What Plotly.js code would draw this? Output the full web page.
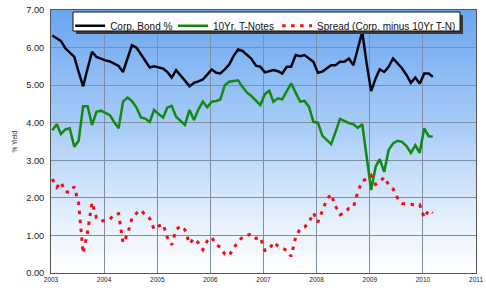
<!DOCTYPE html>
<html>
<head>
<meta charset="utf-8">
<script src="https://cdn.plot.ly/plotly-3.0.1.min.js"></script>
<style>html,body{margin:0;padding:0;background:#fff;}#chart{width:486px;height:288px;}</style>
</head>
<body>
<div id="chart"></div>
<script>
// Monthly series, first observation January 2003
const startYear = 2003;
const corpBond = [
  6.32, 6.24, 6.18, 5.98, 5.86, 5.75, 5.35, 4.97, 5.45, 5.89, 5.75, 5.70,
  5.66, 5.63, 5.58, 5.51, 5.35, 5.70, 6.06, 6.00, 5.82, 5.65, 5.47, 5.50,
  5.48, 5.44, 5.35, 5.20, 5.40, 5.27, 5.12, 4.97, 5.06, 5.10, 5.15, 5.28,
  5.42, 5.33, 5.31, 5.42, 5.55, 5.78, 5.95, 5.91, 5.80, 5.70, 5.52, 5.49,
  5.34, 5.37, 5.40, 5.37, 5.31, 5.49, 5.49, 5.80, 5.77, 5.80, 5.71, 5.62,
  5.33, 5.36, 5.44, 5.53, 5.53, 5.62, 5.62, 5.71, 5.53, 5.98, 6.42, 5.58,
  4.84, 5.18, 5.42, 5.35, 5.49, 5.71, 5.58, 5.45, 5.27, 5.06, 5.20, 5.04,
  5.31, 5.31, 5.22
];
const tNotes10 = [
  3.80, 3.96, 3.70, 3.82, 3.85, 3.36, 3.52, 4.44, 4.44, 3.94, 4.29, 4.32,
  4.26, 4.20, 4.02, 3.85, 4.56, 4.67, 4.58, 4.41, 4.14, 4.11, 4.02, 4.34,
  4.23, 4.14, 4.40, 4.45, 4.16, 4.05, 3.94, 4.34, 4.07, 4.35, 4.56, 4.41,
  4.56, 4.58, 4.62, 5.00, 5.09, 5.11, 5.13, 4.95, 4.80, 4.71, 4.60, 4.47,
  4.76, 4.85, 4.56, 4.65, 4.62, 4.85, 5.05, 4.80, 4.56, 4.58, 4.42, 4.02,
  4.00, 3.65, 3.55, 3.43, 3.75, 4.10, 4.05, 3.99, 3.96, 3.86, 3.96, 3.10,
  2.21, 2.83, 3.03, 2.69, 3.27, 3.45, 3.52, 3.49, 3.38, 3.20, 3.40, 3.20,
  3.85, 3.64, 3.63
];
const spread = [
  2.50, 2.28, 2.42, 2.16, 2.15, 2.30, 1.85, 0.52, 1.10, 1.88, 1.46, 1.38,
  1.40, 1.43, 1.56, 1.58, 0.80, 1.03, 1.45, 1.59, 1.68, 1.54, 1.45, 1.16,
  1.25, 1.30, 0.95, 0.75, 1.15, 1.25, 1.15, 0.78, 0.92, 0.80, 0.62, 0.85,
  0.95, 0.75, 0.69, 0.50, 0.46, 0.67, 0.82, 0.96, 1.00, 1.04, 0.92, 0.95,
  0.60, 0.62, 0.82, 0.72, 0.66, 0.60, 0.44, 0.95, 1.18, 1.22, 1.35, 1.60,
  1.35, 1.65, 1.95, 2.10, 1.78, 1.55, 1.60, 1.72, 1.75, 2.15, 2.45, 2.50,
  2.60, 2.36, 2.42, 2.55, 2.35, 2.24, 2.00, 1.85, 1.85, 1.83, 1.80, 1.82,
  1.47, 1.67, 1.60
];
const seriesNames = ['Corp. Bond %', '10Yr. T-Notes', 'Spread (Corp. minus 10Yr T-N)'];
const yTickVals = [0, 1, 2, 3, 4, 5, 6, 7];
const yearTicks = ['2003','2004','2005','2006','2007','2008','2009','2010','2011'];
const yAxisTitle = '% Yield';

const dates = corpBond.map((_, k) => {
  const y = startYear + Math.floor(k / 12);
  const m = (k % 12) + 1;
  return y + '-' + String(m).padStart(2, '0') + '-10';
});

const grad = 'data:image/svg+xml;utf8,' + encodeURIComponent(
  '<svg xmlns="http://www.w3.org/2000/svg" width="10" height="100" preserveAspectRatio="none">' +
  '<defs><linearGradient id="g" x1="0" y1="0" x2="0" y2="1">' +
  '<stop offset="0" stop-color="#6aa6f0"/><stop offset="0.45" stop-color="#a9cdf7"/>' +
  '<stop offset="0.8" stop-color="#e6f0fd"/><stop offset="1" stop-color="#ffffff"/>' +
  '</linearGradient></defs><rect width="10" height="100" fill="url(#g)"/></svg>');

const traces = [
  {x: dates, y: corpBond, name: seriesNames[0], legend: 'legend', type: 'scatter', mode: 'lines',
   line: {color: '#050510', width: 2.5}},
  {x: dates, y: tNotes10, name: seriesNames[1], legend: 'legend2', type: 'scatter', mode: 'lines',
   line: {color: '#128a12', width: 2.5}},
  {x: dates, y: spread, name: seriesNames[2], legend: 'legend3', type: 'scatter', mode: 'lines',
   line: {color: '#f01010', width: 3, dash: '3.5px,5.5px'}}
];

function legendAt(x) {
  return {orientation: 'h', x: x, xanchor: 'left', y: 0.995, yanchor: 'top',
          bgcolor: 'rgba(0,0,0,0)', borderwidth: 0, itemwidth: 30,
          font: {size: 10, color: '#111'}};
}

const layout = {
  width: 486, height: 288,
  margin: {l: 51, r: 10, t: 10, b: 15},
  paper_bgcolor: '#ffffff',
  plot_bgcolor: 'rgba(0,0,0,0)',
  font: {family: 'Liberation Sans, Arial, sans-serif', color: '#222', size: 9},
  showlegend: true,
  legend: legendAt(0.045),
  legend2: legendAt(0.287),
  legend3: legendAt(0.532),
  xaxis: {type: 'date', range: ['2003-01-01', '2011-01-01'],
          tickvals: yearTicks.map(y => y + '-01-01'), ticktext: yearTicks,
          showgrid: true, gridcolor: '#7f8ea0', gridwidth: 1,
          showline: true, linecolor: '#555', mirror: true, linewidth: 1,
          ticks: '', tickfont: {size: 6.5, color: '#222'}, zeroline: false},
  yaxis: {range: [0, 7], tickvals: yTickVals, tickformat: '.2f', ticksuffix: '%',
          showgrid: true, gridcolor: '#7f8ea0', gridwidth: 1,
          showline: true, linecolor: '#555', mirror: true, linewidth: 1,
          ticks: '', tickfont: {size: 9.2, color: '#222'}, zeroline: false,
          ticklabelstandoff: 4},
  annotations: [{text: yAxisTitle, xref: 'paper', yref: 'paper', x: -0.1, y: 0.5,
                 textangle: -90, showarrow: false, font: {size: 6.5, color: '#222'}}],
  shapes: [
    {type: 'rect', xref: 'paper', yref: 'paper', layer: 'above',
     x0: 0.0588, x1: 0.9694, y0: 0.9087, y1: 0.981, fillcolor: '#3a3a3a', line: {width: 0}},
    {type: 'rect', xref: 'paper', yref: 'paper', layer: 'above',
     x0: 0.0518, x1: 0.9624, y0: 0.9202, y1: 0.9924, fillcolor: '#ffffff',
     line: {color: '#111', width: 1}}
  ],
  images: [{source: grad, xref: 'paper', yref: 'paper', x: 0, y: 1, sizex: 1, sizey: 1,
            sizing: 'stretch', layer: 'below', xanchor: 'left', yanchor: 'top'}]
};

Plotly.newPlot('chart', traces, layout, {displayModeBar: false, staticPlot: true});
</script>
</body>
</html>
